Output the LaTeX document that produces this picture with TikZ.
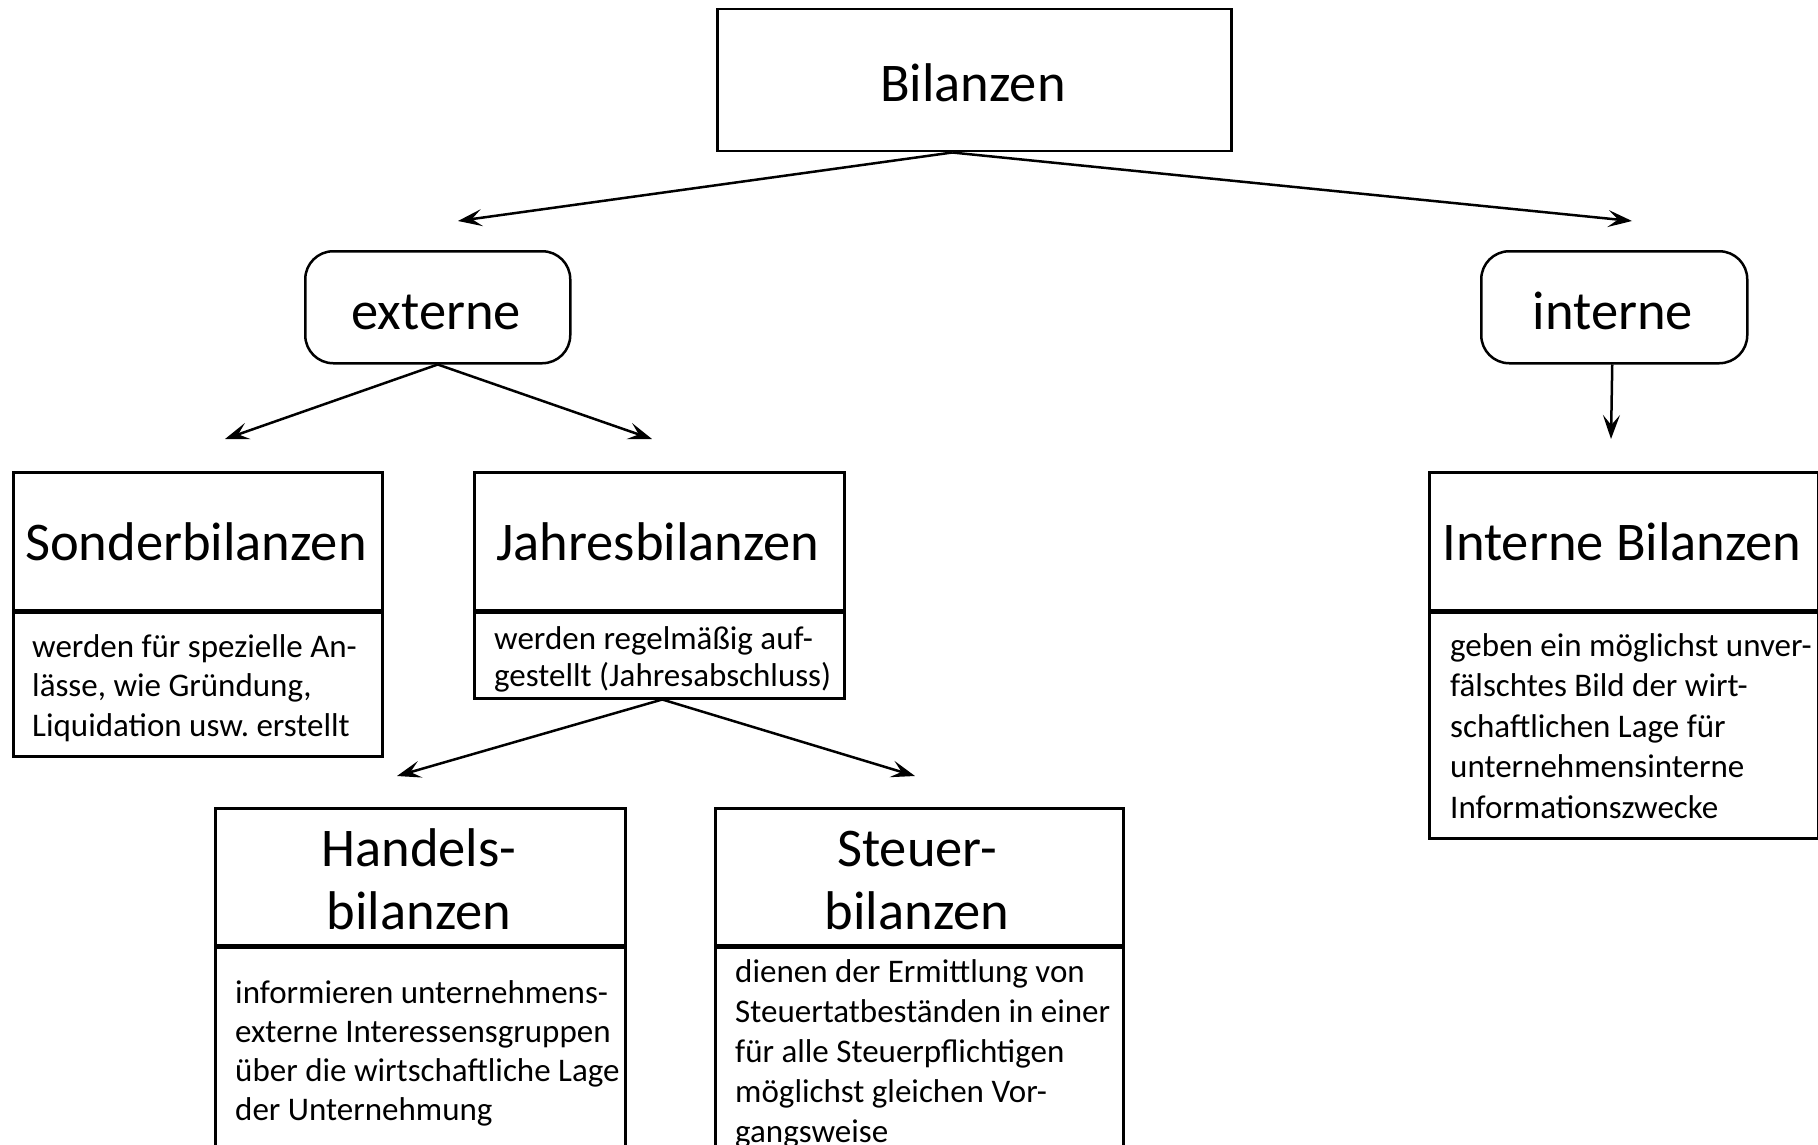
\documentclass[tikz,border=0pt]{standalone}
\usepackage{fontspec}
\setmainfont{Carlito}
\usetikzlibrary{arrows.meta}
\frenchspacing

% multi-line description set from the baseline of its first line
\newcommand\desctext[2]{\parbox[t]{460pt}{\fontsize{33}{#1}\selectfont\raggedright #2}}
% centred two-line heading
\newcommand\headtwo[2]{\parbox[t]{400pt}{\fontsize{54.5}{63}\selectfont\centering #1\\#2}}

\tikzset{
  x=1pt, y=-1pt,
  box/.style={draw, line width=2.5pt, inner sep=0pt, anchor=north west},
  roundbox/.style={box, rounded corners=28pt},
  title/.style={inner sep=0pt, anchor=base, font=\fontsize{54.5}{63}\selectfont},
  desc/.style={inner sep=0pt, anchor=base west},
  arr/.style={line width=2.5pt, -{Stealth[length=24pt, width=17pt, inset=10pt]}},
}

\begin{document}
\begin{tikzpicture}
\useasboundingbox[fill=white] (0,0) rectangle (1818,1145);

% frames
\node[box, minimum width=514pt, minimum height=142pt] (top) at (716,8) {};
\node[roundbox, minimum width=265pt, minimum height=112pt] (ext) at (304,250) {};
\node[roundbox, minimum width=266pt, minimum height=112pt] (int) at (1480,250) {};

\node[box, minimum width=369pt, minimum height=138pt] (sonderT) at (12,471) {};
\node[box, minimum width=369pt, minimum height=143.5pt] (sonderD) at (12,611.5) {};
\node[box, minimum width=370pt, minimum height=138pt] (jahresT) at (473,471) {};
\node[box, minimum width=370pt, minimum height=85.5pt] (jahresD) at (473,611.5) {};
\node[box, minimum width=389pt, minimum height=138pt] (internT) at (1428,471) {};
\node[box, minimum width=389pt, minimum height=225.5pt] (internD) at (1428,611.5) {};

\node[box, minimum width=410pt, minimum height=137pt] (handelsT) at (214,807) {};
\node[box, minimum width=410pt, minimum height=240pt] (handelsD) at (214,946.5) {};
\node[box, minimum width=408pt, minimum height=137pt] (steuerT) at (714,807) {};
\node[box, minimum width=408pt, minimum height=240pt] (steuerD) at (714,946.5) {};

% headings
\node[title] (tTop) at (973,102) {Bilanzen};
\node[title] (tExt) at (436,329) {externe};
\node[title] (tInt) at (1613,329) {interne};
\node[title] (tSonder) at (196,560) {Sonderbilanzen};
\node[title] (tJahres) at (658,560) {Jahresbilanzen};
\node[title] (tIntern) at (1622,560) {Interne Bilanzen};
\node[inner sep=0pt, anchor=base] (tHandels) at (419,866) {\headtwo{Handels-}{bilanzen}};
\node[inner sep=0pt, anchor=base] (tSteuer) at (917,866) {\headtwo{Steuer-}{bilanzen}};

% descriptions
\node[desc] (dSonder) at (32,657) {\desctext{39.5}{werden für spezielle An-\\lässe, wie Gründung,\\Liquidation usw. erstellt}};
\node[desc] (dJahres) at (494,649) {\desctext{37}{werden regelmäßig auf-\\gestellt (Jahresabschluss)}};
\node[desc] (dIntern) at (1450,656) {\desctext{40.5}{geben ein möglichst unver-\\fälschtes Bild der wirt-\\schaftlichen Lage für\\unternehmensinterne\\Informationszwecke}};
\node[desc] (dHandels) at (235,1003) {\desctext{39}{informieren unternehmens-\\externe Interessensgruppen\\über die wirtschaftliche Lage\\der Unternehmung}};
\node[desc] (dSteuer) at (735,982) {\desctext{40}{dienen der Ermittlung von\\Steuertatbeständen in einer\\für alle Steuerpflichtigen\\möglichst gleichen Vor-\\gangsweise}};

% arrow ends
\coordinate (toExt) at (458,221);
\coordinate (toInt) at (1632,221);
\coordinate (toSonder) at (225,439);
\coordinate (toJahres) at (652,439);
\coordinate (toIntern) at (1611,439);
\coordinate (toHandels) at (397,776);
\coordinate (toSteuer) at (915,776);

% connectors
\draw[arr] ([xshift=-22pt]top.south) -- (toExt);
\draw[arr] ([xshift=-22pt]top.south) -- (toInt);
\draw[arr] (ext.south) -- (toSonder);
\draw[arr] (ext.south) -- (toJahres);
\draw[arr] ([xshift=-2pt]int.south) -- (toIntern);
\draw[arr] ([xshift=3pt]jahresD.south) -- (toHandels);
\draw[arr] ([xshift=3pt]jahresD.south) -- (toSteuer);
\end{tikzpicture}
\end{document}
